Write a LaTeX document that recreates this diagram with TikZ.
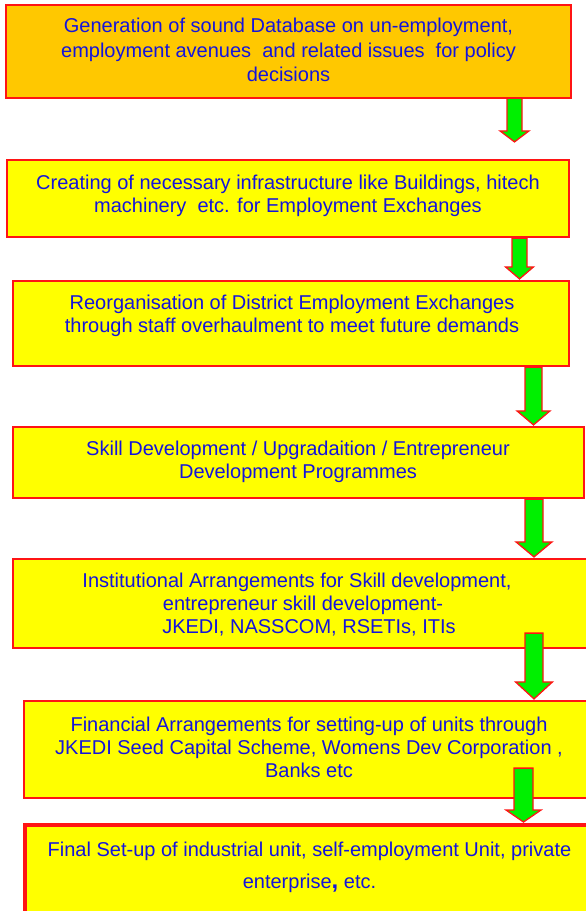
\documentclass[tikz,border=0pt]{standalone}
\usepackage{fontspec}
\setmainfont{Liberation Sans}
\usetikzlibrary{calc}
\definecolor{gold}{HTML}{FFC800}
\definecolor{lemon}{HTML}{FFFF00}
\definecolor{ink}{HTML}{1414DC}
\definecolor{edge}{HTML}{FF1414}
\definecolor{go}{HTML}{00F000}

\begin{document}
\begin{tikzpicture}[x=1pt,y=-1pt,
  stage/.style={draw=edge,line width=2.2pt,fill=lemon},
  txt/.style={text=ink,align=center,font=\fontsize{20}{23}\selectfont},
  flow/.style={draw=edge,fill=go,line width=1.3pt,line join=miter}]
\path[use as bounding box,clip] (0,0) rectangle (586,911);
% stage boxes, top to bottom
\foreach \n/\l/\t/\r/\b in {b1/7/6/570/97,b2/7/160/569/237,b3/13/281/569/366,b4/13/427/584/498,
  b5/13/559/592/648,b6/24/701/596/798}
  \node[stage,inner sep=0pt,minimum width={\r-\l},minimum height={\b-\t}] (\n) at ({(\l+\r)/2},{(\t+\b)/2}) {};
\fill[gold] (b1.south west) rectangle (b1.north east); \draw[edge,line width=2.2pt] (b1.south west) rectangle (b1.north east);
\node[stage,line width=4pt,inner sep=0pt,minimum width=571,minimum height=115] (b7) at (310.5,882.5) {};
% texts
\node[txt,font=\fontsize{20}{24.5}\selectfont] (t1) at (288.5,50) {Generation of sound Database on un-employment,\\employment avenues \ and related issues \ for policy\\decisions};
\node[txt] (t2) at (288,196) {Creating of necessary infrastructure like Buildings, hitech\\machinery \ etc. for Employment Exchanges};
\node[txt] (t3) at (292,316) {Reorganisation of District Employment Exchanges\\through staff overhaulment to meet future demands};
\node[txt] (t4) at (298,462) {Skill Development / Upgradaition / Entrepreneur\\Development Programmes};
\node[txt] (t5) at (297,605) {Institutional Arrangements for Skill development,\\\hspace*{12pt}entrepreneur skill development-\\\hspace*{24pt}JKEDI, NASSCOM, RSETIs, ITIs};
\node[txt] (t6) at (309,747) {Financial Arrangements for setting-up of units through\\JKEDI Seed Capital Scheme, Womens Dev Corporation ,\\Banks etc};
\node[txt,font=\fontsize{20}{32}\selectfont] (t7) at (309.5,867) {Final Set-up of industrial unit, self-employment Unit, private\\enterprise{\fontsize{24}{32}\selectfont\bfseries,} etc.};
% block arrows: from/to/x/shaft/head/head length/top shift/tip shift
\foreach \a/\b/\x/\s/\h/\k/\dt/\db in {b1/b2/514.5/7.5/14.5/11/0/-17,b2/b3/519.5/7.5/14/12/0/-1,
  b3/b4/533.5/8.5/16.5/14/0/-1,b4/b5/534/9/18/15/0/-1,b5/b6/534/9/18.5/17/-16/-1,b6/b7/523.5/9.5/17.5/12/-31/-1}{
  \coordinate (top) at ($(\x,0 |- \a.south)+(0,\dt)$);
  \coordinate (tip) at ($(\x,0 |- \b.north)+(0,\db)$);
  \draw[flow] ($(top)+(-\s,0)$) -- ($(tip)+(-\s,-\k)$) -- ($(tip)+(-\h,-\k)$) -- (tip)
    -- ($(tip)+(\h,-\k)$) -- ($(tip)+(\s,-\k)$) -- ($(top)+(\s,0)$) -- cycle;
}
\end{tikzpicture}
\end{document}
